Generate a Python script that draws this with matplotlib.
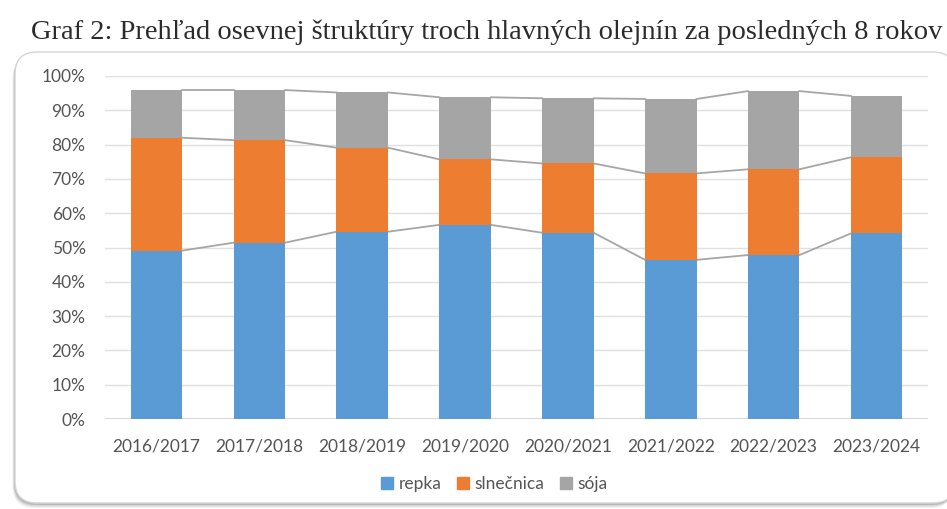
import numpy as np
import matplotlib.pyplot as plt
from matplotlib.patches import FancyBboxPatch, Patch
from matplotlib.ticker import PercentFormatter

plt.rcParams['font.family'] = ['Lato', 'DejaVu Sans']

# ---- data (share of sown area, %) ----
seasons = ['2016/2017', '2017/2018', '2018/2019', '2019/2020',
           '2020/2021', '2021/2022', '2022/2023', '2023/2024']
repka = [49.1, 51.4, 54.6, 56.6, 54.3, 46.4, 47.8, 54.1]
slnecnica = [32.9, 29.9, 24.5, 19.1, 20.2, 25.2, 25.0, 22.2]
soja = [13.9, 14.6, 16.1, 18.1, 19.0, 21.7, 22.8, 17.9]
series_names = ['repka', 'slnečnica', 'sója']
colors = ['#5b9bd5', '#ed7d31', '#a5a5a5']

W, H = 947, 509
fig = plt.figure(figsize=(W / 100, H / 100), dpi=100)

# background axes in pixel units for the rounded frame
bg = fig.add_axes([0, 0, 1, 1], zorder=-1)
bg.set_xlim(0, W)
bg.set_ylim(H, 0)
bg.axis('off')
for off, a in [(5, 0.06), (3.5, 0.10), (2, 0.14)]:
    bg.add_patch(FancyBboxPatch((15 - off * 0.5, 52 + off), 940, 451,
                                boxstyle="round,pad=0,rounding_size=22",
                                facecolor='black', alpha=a, edgecolor='none'))
bg.add_patch(FancyBboxPatch((15, 52), 940, 451,
                            boxstyle="round,pad=0,rounding_size=22",
                            facecolor='white', edgecolor='#d4d4d4', linewidth=1.0))

fig.text(487 / W, 1 - 32 / H,
         'Graf 2: Prehľad osevnej štruktúry troch hlavných olejnín za posledných 8 rokov',
         family=['Liberation Serif', 'DejaVu Serif'], fontsize=20.5, color='#2b2b2b',
         ha='center', va='center')

ax = fig.add_axes([105 / W, 1 - 419 / H, 823 / W, 343 / H])
ax.set_facecolor('none')

x = np.arange(len(seasons))
width = 0.5
data = [repka, slnecnica, soja]
bottom = np.zeros(len(seasons))
for vals, name, c in zip(data, series_names, colors):
    vals = np.array(vals) / 100
    ax.bar(x, vals, width, bottom=bottom, color=c, label=name, zorder=3)
    bottom = bottom + vals
    # series lines between neighbouring bars
    for i in range(len(x) - 1):
        ax.plot([x[i] + width / 2, x[i + 1] - width / 2], [bottom[i], bottom[i + 1]],
                color='#a6a6a6', linewidth=1.3, zorder=2)

ax.set_xlim(-0.5, 7.5)
ax.set_ylim(0, 1)
ax.set_yticks(np.arange(0, 1.01, 0.1))
ax.yaxis.set_major_formatter(PercentFormatter(1.0, decimals=0))
ax.set_xticks(x)
ax.set_xticklabels(seasons)
ax.grid(axis='y', color='#e0e0e0', linewidth=1.0, zorder=0)
ax.axhline(0, color='#d0d0d0', linewidth=1.2, zorder=1)
for s in ax.spines.values():
    s.set_visible(False)
ax.tick_params(length=0, labelsize=12.5, colors='#555555')
ax.tick_params(axis='x', pad=14)
ax.tick_params(axis='y', pad=14)

handles = [Patch(color=c) for c in colors]
fig.legend(handles, series_names, loc='center', bbox_to_anchor=(494 / W, 1 - 484 / H),
           ncol=3, frameon=False, fontsize=12.5, handlelength=0.7, handleheight=0.7,
           handletextpad=0.3, columnspacing=0.9, labelcolor='#555555')

fig.savefig('out.png', dpi=100)
